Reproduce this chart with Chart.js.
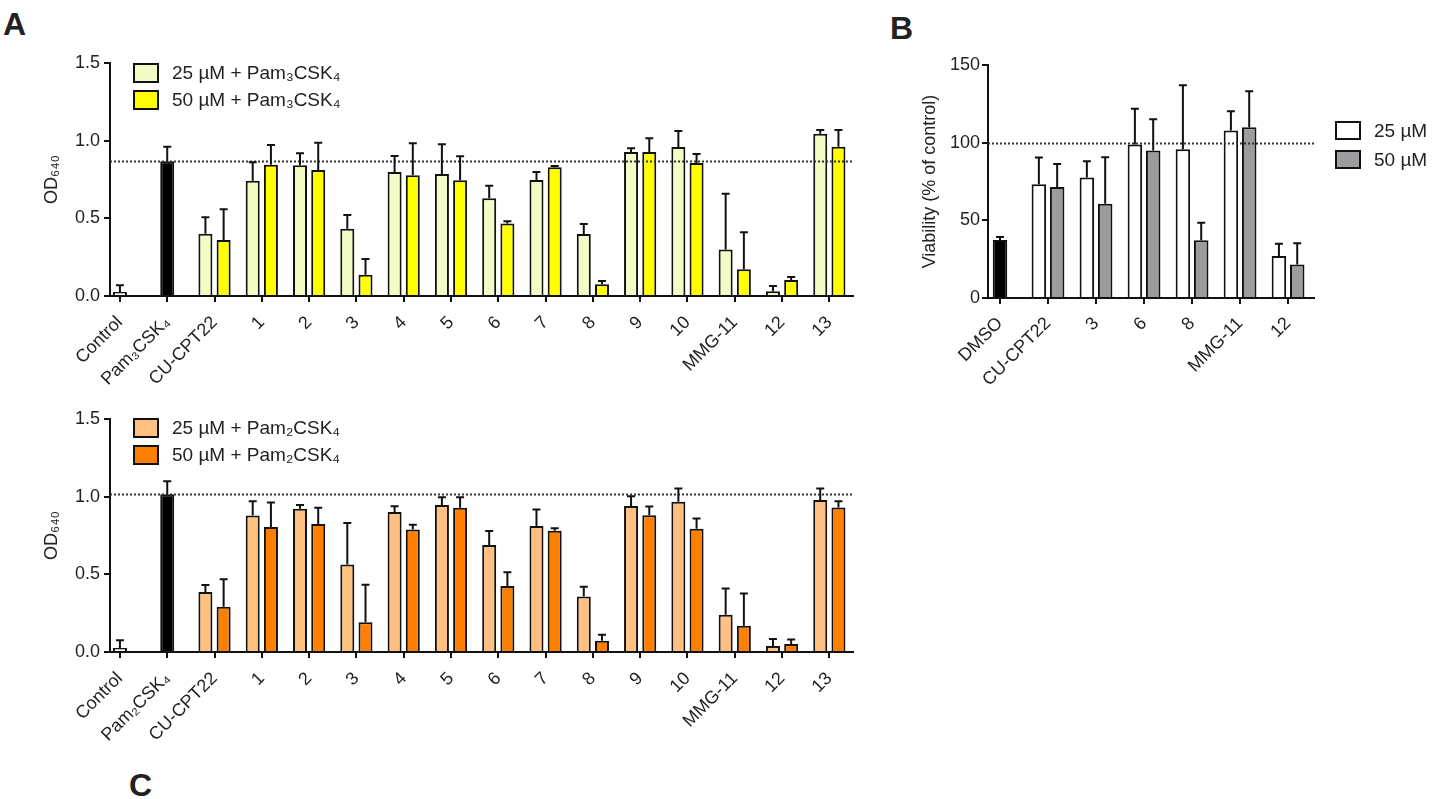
<!DOCTYPE html>
<html>
<head>
<meta charset="utf-8">
<script src="https://cdn.jsdelivr.net/npm/chart.js@4.4.1/dist/chart.umd.min.js"></script>
<style>
  html, body { margin:0; padding:0; background:#fff; }
  body { width:1432px; height:799px; position:relative; overflow:hidden; font-family:"Liberation Sans", Arial, sans-serif; }
  canvas { position:absolute; }
  .letter { position:absolute; font-weight:bold; font-size:32px; line-height:32px; color:#222; }
</style>
</head>
<body>
<div class="letter" style="left:3px;top:8px">A</div>
<div class="letter" style="left:890px;top:12px">B</div>
<div class="letter" style="left:129px;top:769px">C</div>
<canvas id="cA" width="880" height="400" style="left:0;top:0"></canvas>
<canvas id="cB" width="552" height="400" style="left:880px;top:0"></canvas>
<canvas id="cC" width="880" height="443" style="left:0;top:356px"></canvas>
<script>
// ---------- Panel A (Pam3CSK4) ----------
const catsA = ['Control','Pam₃CSK₄','CU-CPT22','1','2','3','4','5','6','7','8','9','10','MMG-11','12','13'];
const ctrlNamesA = ['Control','Pam₃CSK₄'];
const ctrlValuesA = [0.025, 0.867];
const ctrlErrA = [0.045, 0.094];
const compoundsA = ['CU-CPT22','1','2','3','4','5','6','7','8','9','10','MMG-11','12','13'];
const a25 = [0.40, 0.742, 0.841, 0.433, 0.798, 0.786, 0.629, 0.747, 0.399, 0.927, 0.959, 0.30, 0.03, 1.045];
const a25Err = [0.107, 0.119, 0.078, 0.089, 0.103, 0.191, 0.081, 0.051, 0.065, 0.024, 0.103, 0.359, 0.034, 0.024];
const a50 = [0.36, 0.845, 0.811, 0.137, 0.777, 0.745, 0.466, 0.829, 0.075, 0.927, 0.856, 0.172, 0.103, 0.961];
const a50Err = [0.198, 0.127, 0.176, 0.101, 0.206, 0.155, 0.015, 0.008, 0.022, 0.088, 0.058, 0.238, 0.019, 0.108];

// ---------- Panel C (Pam2CSK4) ----------
const catsC = ['Control','Pam₂CSK₄','CU-CPT22','1','2','3','4','5','6','7','8','9','10','MMG-11','12','13'];
const ctrlNamesC = ['Control','Pam₂CSK₄'];
const ctrlValuesC = [0.026, 1.015];
const ctrlErrC = [0.05, 0.084];
const compoundsC = ['CU-CPT22','1','2','3','4','5','6','7','8','9','10','MMG-11','12','13'];
const c25 = [0.386, 0.878, 0.923, 0.564, 0.901, 0.946, 0.689, 0.811, 0.358, 0.94, 0.968, 0.24, 0.039, 0.979];
const c25Err = [0.045, 0.092, 0.023, 0.267, 0.037, 0.05, 0.09, 0.107, 0.062, 0.062, 0.084, 0.168, 0.045, 0.074];
const c50 = [0.292, 0.805, 0.824, 0.191, 0.788, 0.929, 0.425, 0.781, 0.073, 0.88, 0.794, 0.169, 0.052, 0.931];
const c50Err = [0.176, 0.158, 0.105, 0.242, 0.032, 0.067, 0.088, 0.015, 0.038, 0.056, 0.066, 0.208, 0.029, 0.039];

// ---------- Panel B (viability) ----------
const catsB = ['DMSO','CU-CPT22','3','6','8','MMG-11','12'];
const ctrlNamesB = ['DMSO'];
const ctrlValuesB = [37.4];
const ctrlErrB = [1.9];
const compoundsB = ['CU-CPT22','3','6','8','MMG-11','12'];
const b25 = [73.3, 77.6, 98.9, 95.7, 107.9, 27.1];
const b25Err = [17.1, 10.4, 22.9, 41.2, 12.4, 7.9];
const b50 = [71.5, 60.6, 94.9, 37.2, 110.0, 21.5];
const b50Err = [14.8, 30.0, 20.2, 11.3, 23.1, 13.8];
const referenceB = 100;

const FONT = '"Liberation Sans", Arial, sans-serif';
const INK = '#222';
Chart.defaults.font.family = FONT;
Chart.defaults.font.size = 18;
Chart.defaults.color = INK;

function points(cats, names, vals) {
  return names.map((n, k) => ({ x: cats.indexOf(n), y: vals[k] }));
}

const errorBars = {
  id: 'errorBars',
  afterDatasetsDraw(chart) {
    const ctx = chart.ctx, ys = chart.scales.y;
    chart.data.datasets.forEach((ds, di) => {
      if (!ds.errors) return;
      const meta = chart.getDatasetMeta(di);
      meta.data.forEach((bar, i) => {
        const v = ds.data[i].y, e = ds.errors[i];
        if (v == null || e == null) return;
        const top = ys.getPixelForValue(v + e);
        ctx.save();
        ctx.strokeStyle = '#111';
        ctx.lineWidth = 2;
        ctx.beginPath();
        ctx.moveTo(bar.x, bar.y);
        ctx.lineTo(bar.x, top);
        ctx.moveTo(bar.x - 4, top);
        ctx.lineTo(bar.x + 4, top);
        ctx.stroke();
        ctx.restore();
      });
    });
  }
};

const refLine = {
  id: 'refLine',
  afterDatasetsDraw(chart, args, o) {
    if (o.value == null) return;
    const ctx = chart.ctx, a = chart.chartArea;
    const y = Math.round(chart.scales.y.getPixelForValue(o.value)) + 0.5;
    ctx.save();
    ctx.strokeStyle = '#333';
    ctx.lineWidth = 2;
    ctx.setLineDash([2, 2]);
    ctx.beginPath();
    ctx.moveTo(a.left, y);
    ctx.lineTo(a.right, y);
    ctx.stroke();
    ctx.restore();
  }
};

const boxLegend = {
  id: 'boxLegend',
  afterDraw(chart, args, o) {
    if (o.x == null) return;
    const ctx = chart.ctx;
    let k = 0;
    chart.data.datasets.forEach(ds => {
      if (!ds.inLegend) return;
      const top = o.y + k * o.pitch;
      ctx.save();
      ctx.fillStyle = ds.backgroundColor;
      ctx.fillRect(o.x, top, o.w, o.h);
      ctx.strokeStyle = '#111';
      ctx.lineWidth = 2;
      ctx.strokeRect(o.x + 1, top + 1, o.w - 2, o.h - 2);
      ctx.fillStyle = INK;
      ctx.font = '19px ' + FONT;
      ctx.textBaseline = 'middle';
      ctx.textAlign = 'left';
      ctx.fillText(ds.label, o.textX, top + o.h / 2 + 1);
      ctx.restore();
      k++;
    });
  }
};

function axisStyle() {
  return {
    grid: { display: true, drawOnChartArea: false, drawTicks: true, tickLength: 6, color: '#111', lineWidth: 2, offset: false },
    border: { display: true, color: '#111', width: 2 }
  };
}

function makeChart(id, cfg) {
  const cats = cfg.cats;
  const datasets = [
    { label: cfg.ctrlLabel, data: points(cats, cfg.ctrlNames, cfg.ctrlValues), errors: cfg.ctrlErr,
      backgroundColor: cfg.ctrlColors, inLegend: false },
    { label: cfg.label25, data: points(cats, cfg.compounds, cfg.v25), errors: cfg.e25,
      backgroundColor: cfg.color25, inLegend: true },
    { label: cfg.label50, data: points(cats, cfg.compounds, cfg.v50), errors: cfg.e50,
      backgroundColor: cfg.color50, inLegend: true }
  ];
  datasets.forEach(d => {
    d.borderColor = '#111';
    d.borderWidth = 2;
    d.skipNull = true;
    d.categoryPercentage = cfg.catPct;
    d.barPercentage = 0.95;
    d.maxBarThickness = cfg.barW;
  });
  return new Chart(document.getElementById(id), {
    type: 'bar',
    data: { datasets },
    options: {
      responsive: false,
      animation: false,
      events: [],
      layout: { padding: cfg.padding },
      scales: {
        x: Object.assign(axisStyle(), {
          type: 'linear', offset: false,
          min: cfg.xMin, max: cfg.xMax,
          afterBuildTicks: s => { s.ticks = cats.map((c, i) => ({ value: i })); },
          afterFit: s => { s.height = cfg.xHeight; },
          ticks: { autoSkip: false, minRotation: 45, maxRotation: 45, padding: cfg.xPad,
                   callback: v => cats[v], color: INK, font: { size: 18 } }
        }),
        y: Object.assign(axisStyle(), {
          min: 0, max: cfg.yMax,
          afterFit: s => { s.width = cfg.yWidth; },
          ticks: { stepSize: cfg.yStep, padding: cfg.yPad, callback: cfg.yFmt, color: INK, font: { size: 18 } },
          title: { display: true, text: cfg.yTitle, color: INK, font: { size: 18 }, padding: { top: cfg.titlePad, bottom: 0 } }
        })
      },
      plugins: {
        legend: { display: false },
        tooltip: { enabled: false },
        refLine: { value: cfg.refValue },
        boxLegend: cfg.legendBox
      }
    },
    plugins: [refLine, errorBars, boxLegend]
  });
}

makeChart('cA', {
  cats: catsA, ctrlNames: ctrlNamesA, ctrlValues: ctrlValuesA, ctrlErr: ctrlErrA,
  ctrlLabel: 'Controls', ctrlColors: ['#ffffff', '#000000'],
  compounds: compoundsA, v25: a25, e25: a25Err, v50: a50, e50: a50Err,
  label25: '25 µM + Pam₃CSK₄', label50: '50 µM + Pam₃CSK₄',
  color25: '#F4FCC6', color50: '#FFFF00',
  catPct: 0.77, barW: 14,
  padding: { left: 0, right: 27, top: 63, bottom: 0 },
  xMin: -0.21, xMax: 15.5, xHeight: 104, yWidth: 110, xPad: 10,
  yMax: 1.5, yStep: 0.5, yPad: 4, yFmt: v => v.toFixed(1),
  yTitle: 'OD₆₄₀', titlePad: 41,
  refValue: ctrlValuesA[1],
  legendBox: { x: 133, y: 63, pitch: 27, w: 26, h: 20, textX: 172 }
});

makeChart('cC', {
  cats: catsC, ctrlNames: ctrlNamesC, ctrlValues: ctrlValuesC, ctrlErr: ctrlErrC,
  ctrlLabel: 'Controls', ctrlColors: ['#ffffff', '#000000'],
  compounds: compoundsC, v25: c25, e25: c25Err, v50: c50, e50: c50Err,
  label25: '25 µM + Pam₂CSK₄', label50: '50 µM + Pam₂CSK₄',
  color25: '#FFC080', color50: '#FF8000',
  catPct: 0.77, barW: 14,
  padding: { left: 0, right: 27, top: 63, bottom: 0 },
  xMin: -0.21, xMax: 15.5, xHeight: 147, yWidth: 110, xPad: 10,
  yMax: 1.5, yStep: 0.5, yPad: 4, yFmt: v => v.toFixed(1),
  yTitle: 'OD₆₄₀', titlePad: 41,
  refValue: ctrlValuesC[1],
  legendBox: { x: 133, y: 62, pitch: 27, w: 26, h: 20, textX: 172 }
});

makeChart('cB', {
  cats: catsB, ctrlNames: ctrlNamesB, ctrlValues: ctrlValuesB, ctrlErr: ctrlErrB,
  ctrlLabel: 'DMSO', ctrlColors: ['#000000'],
  compounds: compoundsB, v25: b25, e25: b25Err, v50: b50, e50: b50Err,
  label25: '25 µM', label50: '50 µM',
  color25: '#FFFFFF', color50: '#9C9C9E',
  catPct: 0.7625, barW: 14.5,
  padding: { left: 0, right: 118, top: 65, bottom: 0 },
  xMin: -0.25, xMax: 6.54, xHeight: 102, yWidth: 108, xPad: 9,
  yMax: 150, yStep: 50, yPad: 2, yFmt: v => String(v),
  yTitle: 'Viability (% of control)', titlePad: 39,
  refValue: referenceB,
  legendBox: { x: 455, y: 121, pitch: 29, w: 26, h: 19, textX: 494 }
});
</script>
</body>
</html>
